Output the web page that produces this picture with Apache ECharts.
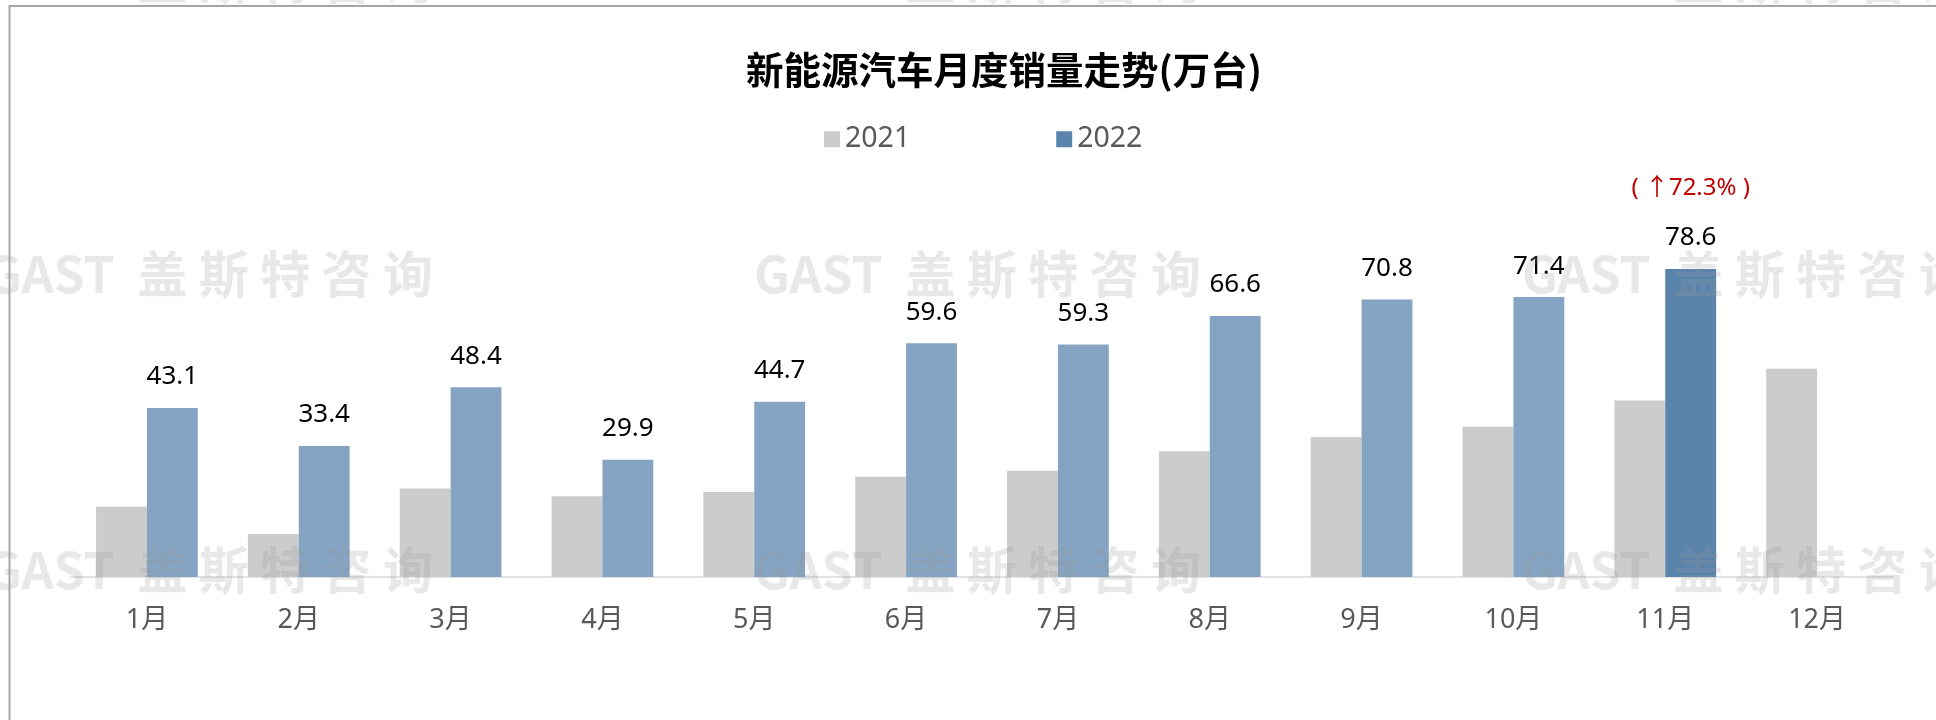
<html>

<head>
    <meta charset="utf-8" />
    <style>
        html, body { margin: 0; padding: 0; background: #fff; }
        .chartbox { width: 1936px; height: 720px; }
    </style>
    <script src="https://cdn.jsdelivr.net/npm/echarts@6/dist/echarts.min.js"></script>
</head>

<body>
    <div id='chart' class='chartbox'></div>
    <script type="text/javascript">
        // 月份与两年销量(万台)
        var months = ['1月', '2月', '3月', '4月', '5月', '6月', '7月', '8月', '9月', '10月', '11月', '12月'];
        var sales2021 = [17.9, 11.0, 22.6, 20.6, 21.7, 25.6, 27.1, 32.1, 35.7, 38.3, 45.0, 53.1];
        var sales2022 = [43.1, 33.4, 48.4, 29.9, 44.7, 59.6, 59.3, 66.6, 70.8, 71.4, 78.6, null];
        // 同比增幅标注, 只标11月
        var growthNote = ['', '', '', '', '', '', '', '', '', '', '( ↑72.3% )', ''];
        var highlightIdx = 10;

        var numFont = '"Noto Sans", "Noto Sans CJK SC", sans-serif';
        var cjkFont = '"Noto Sans CJK SC", sans-serif';

        var chart = echarts.init(document.getElementById('chart'));

        var data2022 = sales2022.map(function (v, i) {
            var item = { value: v };
            if (i !== highlightIdx) {
                item.itemStyle = { color: '#85a4c3' };
            }
            return item;
        });

        /* 水印 GAST 盖斯特咨询 */
        var watermark = [];
        [-20, 274, 570].forEach(function (cy) {
            [-14, 754, 1522].forEach(function (cx) {
                watermark.push({
                    type: 'text',
                    x: cx,
                    y: cy,
                    z: 100,
                    silent: true,
                    style: {
                        text: 'GAST  盖 斯 特 咨 询',
                        font: 'bold 50px "Noto Sans CJK SC", sans-serif',
                        fill: 'rgba(150,150,150,0.22)',
                        verticalAlign: 'middle'
                    }
                });
            });
        });

        var frame = [
            { type: 'line', z: 101, silent: true, shape: { x1: 9.5, y1: 5, x2: 9.5, y2: 720 }, style: { stroke: '#a6a6a6', lineWidth: 2 } },
            { type: 'line', z: 101, silent: true, shape: { x1: 9, y1: 6, x2: 1936, y2: 6 }, style: { stroke: '#a6a6a6', lineWidth: 2 } }
        ];

        var option = {
            backgroundColor: '#fff',
            animation: false,
            title: {
                text: '新能源汽车月度销量走势(万台)',
                left: 741,
                top: 46,
                textStyle: {
                    color: '#000',
                    fontSize: 37.5,
                    fontWeight: 'bold',
                    fontFamily: cjkFont
                }
            },
            legend: {
                left: 819,
                top: 120,
                itemWidth: 16,
                itemHeight: 16,
                itemGap: 146,
                icon: 'rect',
                textStyle: {
                    color: '#595959',
                    fontSize: 28.5,
                    fontFamily: numFont
                },
                data: ['2021', '2022']
            },
            grid: {
                left: 71,
                right: 43,
                top: 185,
                bottom: 143
            },
            xAxis: {
                type: 'category',
                data: months,
                axisTick: { show: false },
                axisLine: { lineStyle: { color: '#d9d9d9', width: 1.5 } },
                axisLabel: {
                    color: '#595959',
                    fontSize: 27,
                    margin: 30,
                    fontFamily: numFont
                }
            },
            yAxis: {
                type: 'value',
                min: 0,
                max: 100,
                show: false,
                splitLine: { show: false }
            },
            series: [
                {
                    name: '2021',
                    type: 'bar',
                    data: sales2021,
                    barGap: '0%',
                    barCategoryGap: '33%',
                    itemStyle: { color: '#cccccc' }
                },
                {
                    name: '2022',
                    type: 'bar',
                    data: data2022,
                    itemStyle: { color: '#5b84ad' },
                    label: {
                        show: true,
                        position: 'top',
                        distance: 18,
                        formatter: function (p) {
                            var note = growthNote[p.dataIndex];
                            if (note) {
                                return '{a|' + note + '}\n{b|' + p.value + '}';
                            }
                            return '{b|' + p.value + '}';
                        },
                        rich: {
                            a: {
                                color: '#c00000',
                                fontSize: 24,
                                lineHeight: 73,
                                fontFamily: numFont
                            },
                            b: {
                                color: '#000',
                                fontSize: 26,
                                lineHeight: 26,
                                fontFamily: numFont
                            }
                        }
                    }
                }
            ],
            graphic: watermark.concat(frame)
        };
        chart.setOption(option);
    </script>
</body>

</html>
